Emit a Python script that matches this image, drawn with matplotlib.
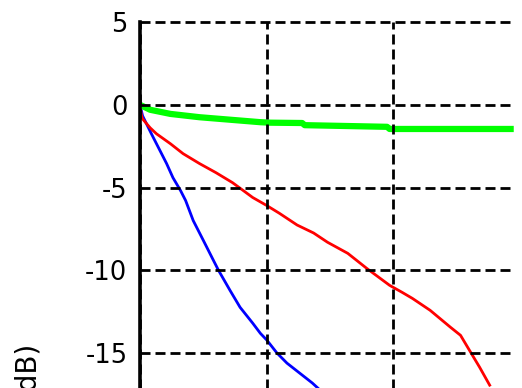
import numpy as np
import matplotlib
matplotlib.use("Agg")
import matplotlib.pyplot as plt

plt.rcParams['font.family'] = ['DejaVu Sans']
plt.rcParams['axes.unicode_minus'] = False

# values (x in grid units, y in dB)
x_green = [0.0, 0.08, 0.24, 0.47, 0.79, 0.95, 1.03, 1.28, 1.3, 1.95, 1.97, 2.95]
y_green = [0.0, -0.3, -0.55, -0.75, -0.95, -1.05, -1.08, -1.1, -1.23, -1.33, -1.46, -1.46]

x_red = [0.0, 0.01, 0.02, 0.08, 0.13, 0.24, 0.34, 0.47, 0.6, 0.73, 0.89, 1.0, 1.1,
         1.24, 1.37, 1.48, 1.64, 1.79, 1.97, 2.07, 2.15, 2.29, 2.45, 2.53, 2.6, 2.68, 2.76]
y_red = [0.0, -0.6, -0.85, -1.39, -1.75, -2.35, -2.95, -3.55, -4.1, -4.7, -5.6, -6.08, -6.55,
         -7.26, -7.74, -8.3, -8.97, -9.88, -10.9, -11.33, -11.69, -12.41, -13.43, -13.92, -14.82, -15.84, -16.93]

x_blue = [0.0, 0.02, 0.09, 0.13, 0.21, 0.26, 0.32, 0.36, 0.42, 0.5, 0.58, 0.62,
          0.71, 0.79, 0.89, 0.95, 1.0, 1.08, 1.16, 1.26, 1.36, 1.46, 1.56]
y_blue = [0.0, -0.66, -1.75, -2.35, -3.55, -4.4, -5.18, -5.78, -6.99, -8.19, -9.4, -10.0,
          -11.2, -12.23, -13.19, -13.8, -14.2, -14.98, -15.6, -16.2, -16.8, -17.5, -18.2]

y_ticks = [-15, -10, -5, 0, 5]

fig = plt.figure(figsize=(5.22, 3.88), dpi=100)
ax = fig.add_axes([140 / 522, (388 - 436) / 388, 374 / 522, (436 - 22) / 388])

ax.plot(x_blue, y_blue, color=(0, 0, 1), lw=2.0)
ax.plot(x_red, y_red, color=(1, 0, 0), lw=2.0)
ax.plot(x_green, y_green, color=(0, 1, 0), lw=4.5, solid_capstyle='butt')

ax.set_xlim(0, 2.952)
ax.set_ylim(-20, 5)
ax.set_xticks([0, 1, 2])
ax.set_yticks(y_ticks)
ax.set_xticklabels([])

ax.grid(True, color='black', lw=2.0, linestyle=(0, (3.6, 1.8)))
for ln in ax.get_ygridlines() + ax.get_xgridlines():
    ln.set_clip_on(False)
ax.set_axisbelow(False)

for side in ['top', 'right', 'bottom']:
    ax.spines[side].set_visible(False)
ax.spines['left'].set_linewidth(2.6)
ax.tick_params(axis='y', length=0, pad=9, labelsize=18.5)
ax.tick_params(axis='x', length=0)

fig.text(29 / 522, (388 - 344) / 388, 'Magnitude (dB)', rotation=90,
         ha='center', va='top', fontsize=20)

fig.savefig('out.png', dpi=100)
